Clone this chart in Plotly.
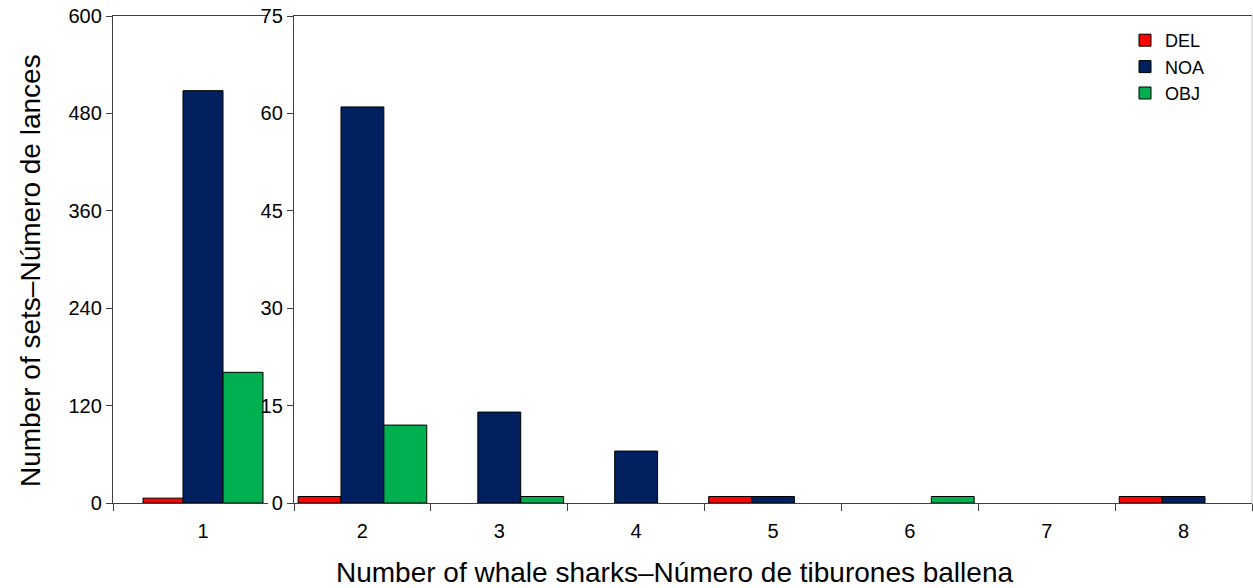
import plotly.graph_objects as go

# Number of sets by number of whale sharks, per set type
series = ["DEL", "NOA", "OBJ"]
colors = {"DEL": "#FF0000", "NOA": "#002060", "OBJ": "#00B050"}

# Left panel: sets with one whale shark (scale 0-600)
cat_left = ["1"]
del_left = [6]
noa_left = [508]
obj_left = [161]

# Right panel: sets with two or more whale sharks (scale 0-75)
cat_right = ["2", "3", "4", "5", "6", "7", "8"]
del_right = [1, 0, 0, 1, 0, 0, 1]
noa_right = [61, 14, 8, 1, 0, 0, 1]
obj_right = [12, 1, 0, 0, 1, 0, 0]

left_vals = {"DEL": del_left, "NOA": noa_left, "OBJ": obj_left}
right_vals = {"DEL": del_right, "NOA": noa_right, "OBJ": obj_right}


def nonzero(vals):
    # empty categories get no bar at all (not even an outline)
    return [v if v else None for v in vals]


axis_color = "#404040"
font_family = "Liberation Sans, Arial, sans-serif"

fig = go.Figure()

# Left panel bars are placed side by side with explicit offsets
bar_w = 0.2222
offsets = {"DEL": -1.5 * bar_w, "NOA": -0.5 * bar_w, "OBJ": 0.5 * bar_w}
for s in series:
    fig.add_trace(go.Bar(
        x=cat_left, y=nonzero(left_vals[s]), name=s, legendgroup=s, showlegend=False,
        width=bar_w, offset=offsets[s],
        marker=dict(color=colors[s], line=dict(color="black", width=1)),
        xaxis="x", yaxis="y",
    ))

for s in series:
    fig.add_trace(go.Bar(
        x=cat_right, y=nonzero(right_vals[s]), name=s, legendgroup=s, showlegend=True,
        marker=dict(color=colors[s], line=dict(color="black", width=1)),
        xaxis="x2", yaxis="y2",
    ))

W, H = 1253, 588
ml, mr, mt, mb = 113, 1, 16, 85
pw = W - ml - mr
ph = H - mt - mb


def px(x):
    return (x - ml) / pw


def py(y):
    return (H - mb - y) / ph


tick_font = dict(family=font_family, size=20, color="black")
title_font = dict(family=font_family, size=28, color="black")

fig.update_layout(
    width=W, height=H,
    margin=dict(l=ml, r=mr, t=mt, b=mb),
    paper_bgcolor="white", plot_bgcolor="white",
    barmode="group", bargap=0.06, bargroupgap=0,
    font=dict(family=font_family, color="black"),
    showlegend=True,
    legend=dict(
        x=px(1125), y=py(22), xanchor="left", yanchor="top",
        font=dict(family=font_family, size=18, color="black"),
        bgcolor="rgba(0,0,0,0)", tracegroupgap=0, itemwidth=30,
    ),
    xaxis=dict(
        domain=[0, px(268)], range=[-0.5, 0.361], type="category",
        showline=True, linecolor=axis_color, linewidth=1.3, mirror=True,
        ticks="outside", tickson="boundaries", ticklen=7, tickcolor=axis_color,
        tickfont=tick_font, ticklabelstandoff=10, showgrid=False, zeroline=False,
        anchor="y",
    ),
    yaxis=dict(
        domain=[0, 1], range=[0, 600], tickvals=[0, 120, 240, 360, 480, 600],
        showline=True, linecolor=axis_color, linewidth=1.3,
        ticks="outside", ticklen=6, tickcolor=axis_color,
        tickfont=tick_font, showgrid=False, zeroline=False, anchor="x",
    ),
    xaxis2=dict(
        domain=[px(294), 1], range=[-0.5, 6.5], type="category",
        showline=True, linecolor=axis_color, linewidth=1.3, mirror=True,
        ticks="outside", tickson="boundaries", ticklen=7, tickcolor=axis_color,
        tickfont=tick_font, ticklabelstandoff=10, showgrid=False, zeroline=False,
        anchor="y2",
    ),
    yaxis2=dict(
        domain=[0, 1], range=[0, 75], tickvals=[0, 15, 30, 45, 60, 75],
        showline=True, linecolor=axis_color, linewidth=1.3,
        ticks="outside", ticklen=6, tickcolor=axis_color,
        tickfont=tick_font, showgrid=False, zeroline=False, anchor="x2",
        side="left",
    ),
    annotations=[
        dict(
            text="Number of whale sharks\u2013Número de tiburones ballena",
            xref="paper", yref="paper", x=px(674), y=py(572),
            xanchor="center", yanchor="middle", showarrow=False,
            font=title_font,
        ),
        dict(
            text="Number of sets\u2013Número de lances",
            xref="paper", yref="paper", x=px(30), y=py(271),
            xanchor="center", yanchor="middle", showarrow=False,
            textangle=-90, font=title_font,
        ),
    ],
    shapes=[dict(
        type="line", xref="paper", yref="paper", x0=1, x1=1, y0=0, y1=1,
        line=dict(color="#c8c8c8", width=1),
    )],
)

fig.write_html("out.html")
